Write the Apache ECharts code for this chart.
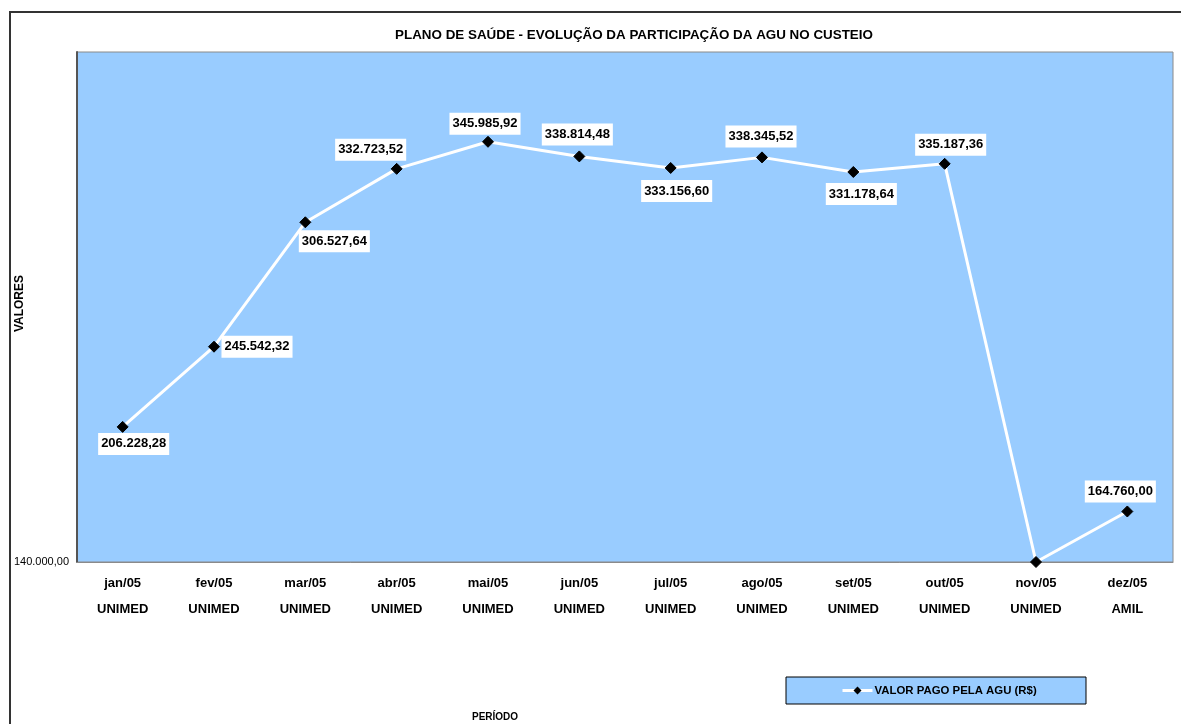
<!DOCTYPE html>
<html><head><meta charset="utf-8">
<script src="https://cdn.jsdelivr.net/npm/echarts@6/dist/echarts.min.js"></script>
<style>html,body{margin:0;padding:0;background:#fff}#c{width:1181px;height:724px}</style>
</head><body><div id="c"></div>
<script>
const months = ['jan/05','fev/05','mar/05','abr/05','mai/05','jun/05','jul/05','ago/05','set/05','out/05','nov/05','dez/05'];
const providers = ['UNIMED','UNIMED','UNIMED','UNIMED','UNIMED','UNIMED','UNIMED','UNIMED','UNIMED','UNIMED','UNIMED','AMIL'];
const values = [206228.28, 245542.32, 306527.64, 332723.52, 345985.92, 338814.48, 333156.60, 338345.52, 331178.64, 335187.36, 140000, 164760.00];
const showLabel = [true,true,true,true,true,true,true,true,true,true,false,true];
const labelOffsets = [[11,17],[43,0],[29,19],[-26,-19],[-3,-18],[-2,-22],[6,23],[-1,-21],[8,22],[6,-19],[0,0],[-7,-20]];
const yMin = 140000, yMax = 390000, yStep = 50000;

function fmtBR(v){
  const parts = v.toFixed(2).split('.');
  parts[0] = parts[0].replace(/\B(?=(\d{3})+(?!\d))/g, '.');
  return parts[0] + ',' + parts[1];
}

const chart = echarts.init(document.getElementById('c'), null, {renderer:'canvas'});
const font = 'Arial, "Liberation Sans", sans-serif';
chart.setOption({
  animation:false,
  textStyle:{fontFamily:font},
  title:{text:'PLANO DE SAÚDE - EVOLUÇÃO DA PARTICIPAÇÃO DA AGU NO CUSTEIO', left:629, top:24, textAlign:'center',
    textStyle:{fontSize:13.4, fontWeight:'bold', color:'#000', fontFamily:font}},
  grid:{left:77, right:8, top:52, bottom:162, show:true, backgroundColor:'#99CCFF', borderColor:'#8a8a8a', borderWidth:1},
  graphic:[
    {type:'rect', shape:{x:10,y:12,width:1180,height:720}, style:{fill:'none', stroke:'#333', lineWidth:2}, z:-1},
    {type:'rect', shape:{x:786,y:677,width:300,height:27}, style:{fill:'#99CCFF', stroke:'#000', lineWidth:1}, z:0},
    {type:'text', left:14, top:275, rotation:Math.PI/2, style:{text:'VALORES', font:'bold 12px '+font, fill:'#000'}},
    {type:'text', left:472, top:712, style:{text:'PERÍODO', font:'bold 10px '+font, fill:'#000'}}
  ],
  legend:{left:841, top:685, padding:0, itemWidth:30, itemHeight:10, itemGap:4,
    lineStyle:{width:3, color:'#fff'},
    textStyle:{fontSize:11.4, fontWeight:'bold', color:'#000', fontFamily:font, padding:[0,0,0,-3]},
    data:[{name:'VALOR PAGO PELA AGU (R$)'}]},
  xAxis:{type:'category', data:months, boundaryGap:true,
    axisLine:{show:true, lineStyle:{color:'#8a8a8a'}}, axisTick:{show:false},
    axisLabel:{interval:0, margin:8, lineHeight:26, fontSize:13, fontWeight:'bold', color:'#000', fontFamily:font,
      formatter:(v,i)=> v + '\n' + providers[i]}},
  yAxis:{type:'value', min:yMin, max:yMax, interval:yStep, splitLine:{show:false},
    axisLine:{show:true, lineStyle:{color:'#555', width:2}}, axisTick:{show:false},
    axisLabel:{margin:8, fontSize:11, color:'#000', fontFamily:font,
      formatter:v=> v===yMin ? fmtBR(v) : ''}},
  series:[{
    name:'VALOR PAGO PELA AGU (R$)', type:'line', data:values.map((v,i)=>({value:v,
      label:{show:showLabel[i], offset:labelOffsets[i]}})),
    symbol:'diamond', symbolSize:11, clip:false,
    lineStyle:{color:'#fff', width:3}, itemStyle:{color:'#000', borderColor:'#000'},
    label:{position:'inside', align:'center', verticalAlign:'middle', backgroundColor:'#fff',
      padding:[5,3,4,3], fontSize:13, fontWeight:'bold', color:'#000', fontFamily:font,
      formatter:p=>fmtBR(p.value)},
    emphasis:{disabled:true}
  }]
});
</script></body></html>
